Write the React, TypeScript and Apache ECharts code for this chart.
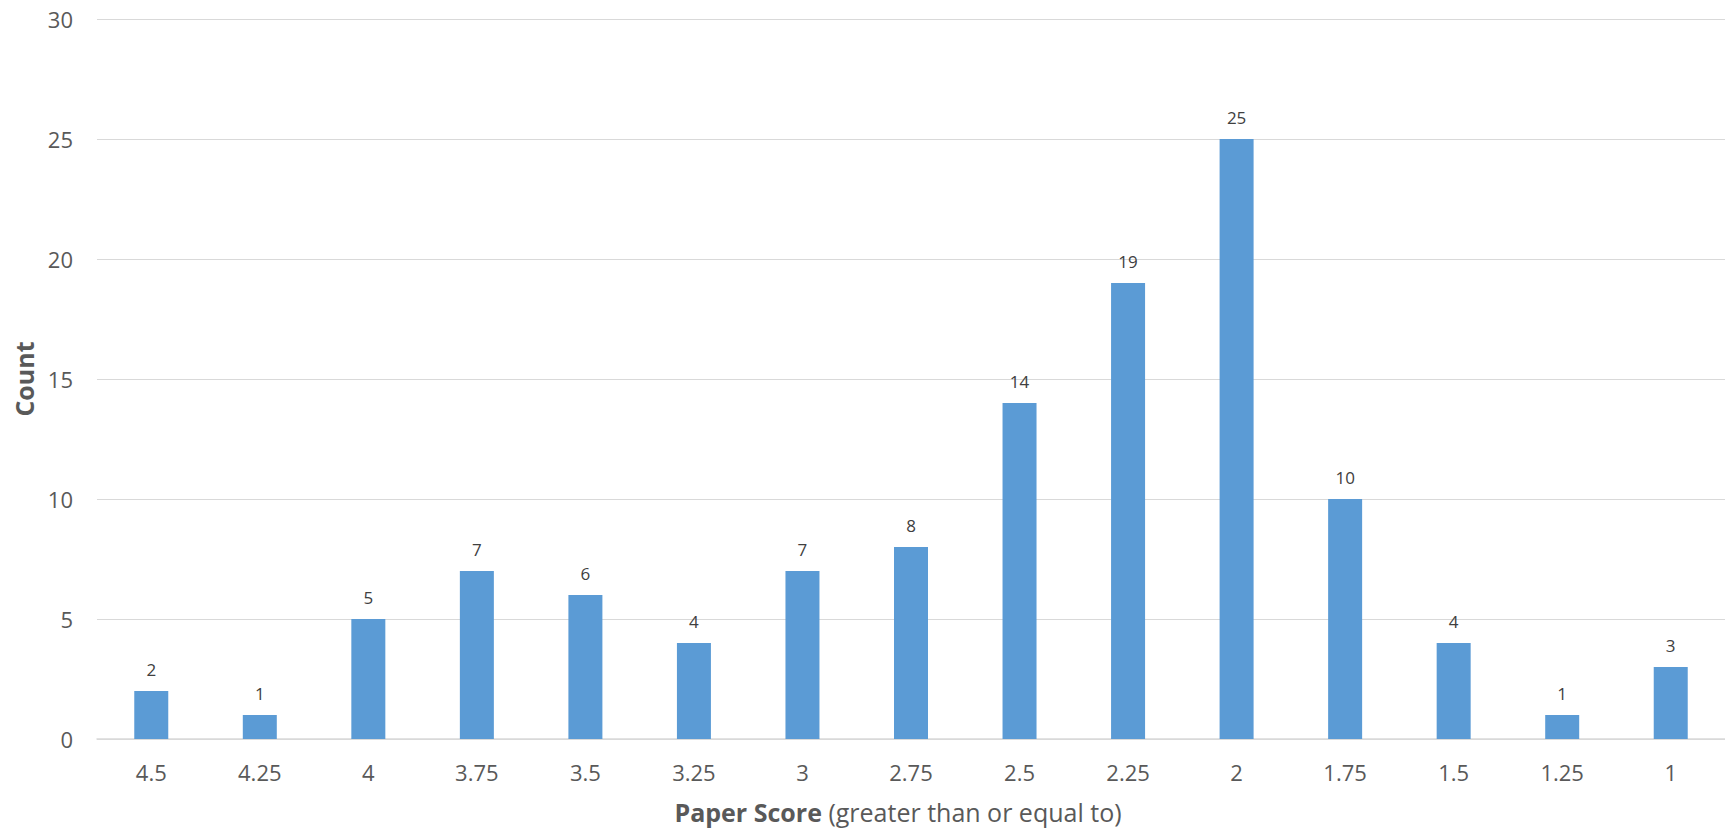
import React, { useEffect, useRef } from "react";
import * as echarts from "echarts";

const categories = ["4.5", "4.25", "4", "3.75", "3.5", "3.25", "3", "2.75", "2.5", "2.25", "2", "1.75", "1.5", "1.25", "1"];
const counts = [2, 1, 5, 7, 6, 4, 7, 8, 14, 19, 25, 10, 4, 1, 3];
const yTicks = { min: 0, max: 30, interval: 5 };

const FONT = "'Open Sans', sans-serif";

export default function App() {
  const ref = useRef<HTMLDivElement>(null);
  useEffect(() => {
    if (!ref.current) return;
    const chart = echarts.init(ref.current, undefined, { renderer: "svg" });
    chart.setOption({
      animation: false,
      backgroundColor: "#ffffff",
      grid: { left: 97, right: 0, top: 19, bottom: 93, containLabel: false },
      xAxis: {
        type: "category",
        data: categories,
        axisLine: { show: true, lineStyle: { color: "#D9D9D9", width: 1.5 } },
        axisTick: { show: false },
        axisLabel: { color: "#595959", fontSize: 22, fontFamily: FONT, margin: 22 },
        name: "{b|Paper Score}{r|\u00a0(greater than or equal to)}",
        nameLocation: "middle",
        nameGap: 60,
        nameTextStyle: {
          padding: [0, 26, 0, 0],
          rich: {
            b: { fontSize: 25, fontWeight: "bold", color: "#595959", fontFamily: FONT },
            r: { fontSize: 25, color: "#595959", fontFamily: FONT },
          },
        },
      },
      yAxis: {
        type: "value",
        min: yTicks.min,
        max: yTicks.max,
        interval: yTicks.interval,
        axisLine: { show: false },
        axisTick: { show: false },
        axisLabel: { color: "#595959", fontSize: 22, fontFamily: FONT, margin: 24 },
        splitLine: { lineStyle: { color: "#D9D9D9", width: 1 } },
        name: "Count",
        nameLocation: "middle",
        nameGap: 58,
        nameRotate: 90,
        nameTextStyle: { color: "#595959", fontSize: 25, fontWeight: "bold", fontFamily: FONT },
      },
      series: [
        {
          type: "bar",
          data: counts,
          barWidth: 34,
          itemStyle: { color: "#5B9BD5" },
          label: {
            show: true,
            position: "top",
            distance: 13,
            color: "#404040",
            fontSize: 17,
            fontFamily: FONT,
          },
        },
      ],
    });
    return () => chart.dispose();
  }, []);
  return <div ref={ref} style={{ position: "fixed", left: 0, top: 0, width: 1725, height: 832 }} />;
}
